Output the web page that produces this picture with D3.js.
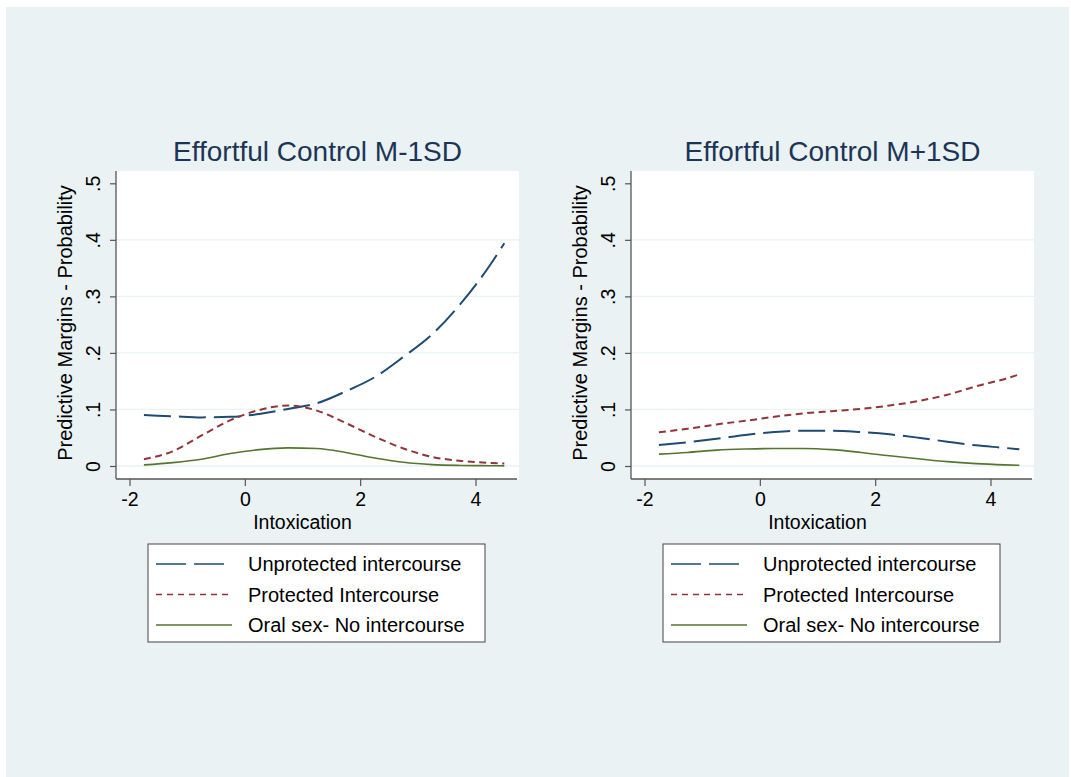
<!DOCTYPE html>
<html>
<head>
<meta charset="utf-8">
<script src="https://cdn.jsdelivr.net/npm/d3@7"></script>
<style>
  body { margin: 0; background: #fff; }
  text { font-family: "Liberation Sans", Arial, Helvetica, sans-serif; }
</style>
</head>
<body>
<div id="chart"></div>
<script>
// intoxication values (x) shared by every curve
var intox = [-1.75, -1.25, -0.75, -0.25, 0.25, 0.75, 1.25, 1.75, 2.25, 2.75, 3.25, 3.75, 4.25, 4.5];

// Effortful Control M-1SD
var lowUnprotected = [0.090, 0.088, 0.086, 0.087, 0.092, 0.101, 0.111, 0.132, 0.157, 0.193, 0.233, 0.288, 0.355, 0.394];
var lowProtected   = [0.012, 0.026, 0.054, 0.081, 0.099, 0.107, 0.098, 0.076, 0.052, 0.031, 0.016, 0.009, 0.0055, 0.0045];
var lowOral        = [0.002, 0.006, 0.012, 0.022, 0.029, 0.032, 0.031, 0.024, 0.014, 0.0065, 0.0025, 0.001, 0.0005, 0.0003];

// Effortful Control M+1SD
var highUnprotected = [0.037, 0.042, 0.048, 0.055, 0.060, 0.0625, 0.0625, 0.060, 0.056, 0.050, 0.043, 0.0365, 0.032, 0.0295];
var highProtected   = [0.0596, 0.066, 0.0735, 0.080, 0.087, 0.093, 0.097, 0.101, 0.107, 0.115, 0.126, 0.141, 0.154, 0.162];
var highOral        = [0.021, 0.024, 0.028, 0.030, 0.031, 0.031, 0.029, 0.024, 0.018, 0.0128, 0.0077, 0.0042, 0.002, 0.0012];

var seriesNames = ["Unprotected intercourse", "Protected Intercourse", "Oral sex- No intercourse"];
var xTicks = [-2, 0, 2, 4];
var yTicks = [0, 0.1, 0.2, 0.3, 0.4, 0.5];
var yTickLabels = ["0", ".1", ".2", ".3", ".4", ".5"];
var panelTitles = ["Effortful Control M-1SD", "Effortful Control M+1SD"];

var styles = [
  {color: "#1f4a72", dash: "27,8", width: 2},
  {color: "#90353b", dash: "7,4.5", width: 2},
  {color: "#55752f", dash: null, width: 1.6}
];

var W = 1071, H = 777;
var svg = d3.select("#chart").append("svg")
  .attr("width", W)
  .attr("height", H);

// outer graph region
svg.append("rect")
  .attr("x", 6).attr("y", 7)
  .attr("width", W - 8).attr("height", H - 7)
  .attr("fill", "#eaf2f3");

var panels = [
  {left: 116, title: panelTitles[0], data: [lowUnprotected, lowProtected, lowOral]},
  {left: 631, title: panelTitles[1], data: [highUnprotected, highProtected, highOral]}
];

var plotTop = 171, plotBottom = 479, plotWidth = 403;

panels.forEach(function(p) {
  var g = svg.append("g").attr("transform", "translate(" + p.left + ",0)");

  var x = d3.scaleLinear().domain([-2, 4]).range([13.5, 359.5]);
  var y = d3.scaleLinear().domain([0, 0.5]).range([466, 183.3]);

  g.append("rect")
    .attr("x", 0).attr("y", plotTop)
    .attr("width", plotWidth).attr("height", plotBottom - plotTop)
    .attr("fill", "#fff");

  // grid lines
  g.selectAll(".grid")
    .data(yTicks.slice(0, 5))
    .enter().append("line")
    .attr("x1", 0).attr("x2", plotWidth)
    .attr("y1", function(d) { return y(d); })
    .attr("y2", function(d) { return y(d); })
    .attr("stroke", "#eaf2f3")
    .attr("stroke-width", 1.3);

  // y axis
  var yAxis = g.append("g")
    .call(d3.axisLeft(y).tickValues(yTicks)
      .tickFormat(function(d, i) { return yTickLabels[i]; })
      .tickSize(6).tickSizeOuter(0));
  yAxis.select(".domain").remove();
  yAxis.selectAll(".tick line").attr("stroke", "#555").attr("stroke-width", 1.2);
  yAxis.selectAll(".tick text")
    .attr("x", null).attr("dy", null)
    .attr("transform", "translate(-23,0) rotate(-90)")
    .attr("text-anchor", "middle")
    .attr("dominant-baseline", "central")
    .attr("fill", "#000")
    .style("font-size", "19.5px")
    .style("font-family", '"Liberation Sans", Arial, sans-serif');

  // x axis
  var xAxis = g.append("g")
    .attr("transform", "translate(0," + plotBottom + ")")
    .call(d3.axisBottom(x).tickValues(xTicks).tickSize(7).tickSizeOuter(0));
  xAxis.select(".domain").remove();
  xAxis.selectAll(".tick line").attr("stroke", "#555").attr("stroke-width", 1.2);
  xAxis.selectAll(".tick text")
    .attr("y", 13)
    .attr("dy", "0.71em")
    .attr("fill", "#000")
    .style("font-size", "19.5px")
    .style("font-family", '"Liberation Sans", Arial, sans-serif')
    .text(function(d) { return d < 0 ? "-" + Math.abs(d) : d; });

  // axis lines
  g.append("line")
    .attr("x1", 0).attr("x2", 0)
    .attr("y1", plotTop).attr("y2", plotBottom)
    .attr("stroke", "#555").attr("stroke-width", 1.3);
  g.append("line")
    .attr("x1", 0).attr("x2", plotWidth - 2)
    .attr("y1", plotBottom).attr("y2", plotBottom)
    .attr("stroke", "#555").attr("stroke-width", 1.3);

  // curves
  var line = d3.line()
    .x(function(d) { return x(d[0]); })
    .y(function(d) { return y(d[1]); })
    .curve(d3.curveMonotoneX);

  p.data.forEach(function(vals, i) {
    g.append("path")
      .datum(intox.map(function(v, j) { return [v, vals[j]]; }))
      .attr("d", line)
      .attr("fill", "none")
      .attr("stroke", styles[i].color)
      .attr("stroke-width", styles[i].width)
      .attr("stroke-dasharray", styles[i].dash);
  });

  // titles
  g.append("text")
    .attr("x", plotWidth / 2).attr("y", 161)
    .attr("text-anchor", "middle")
    .attr("fill", "#1c3557")
    .style("font-size", "28px")
    .text(p.title);

  g.append("text")
    .attr("x", x(1)).attr("y", 529)
    .attr("text-anchor", "middle")
    .attr("fill", "#000")
    .style("font-size", "19.5px")
    .text("Intoxication");

  g.append("text")
    .attr("transform", "translate(-44,323) rotate(-90)")
    .attr("text-anchor", "middle")
    .attr("fill", "#000")
    .style("font-size", "20px")
    .text("Predictive Margins - Probability");

  // legend
  var lg = g.append("g").attr("transform", "translate(32,544)");
  lg.append("rect")
    .attr("x", 0).attr("y", 0)
    .attr("width", 337).attr("height", 98)
    .attr("fill", "#fff")
    .attr("stroke", "#444")
    .attr("stroke-width", 1);

  seriesNames.forEach(function(name, i) {
    var ry = 20 + i * 30.5;
    lg.append("line")
      .attr("x1", 8).attr("x2", 84)
      .attr("y1", ry).attr("y2", ry)
      .attr("stroke", styles[i].color)
      .attr("stroke-width", 1.4)
      .attr("stroke-dasharray", i === 0 ? "30,8" : (i === 1 ? "6,5" : null));
    lg.append("text")
      .attr("x", 100).attr("y", ry + 7)
      .attr("fill", "#000")
      .style("font-size", "20px")
      .text(name);
  });
});
</script>
</body>
</html>
